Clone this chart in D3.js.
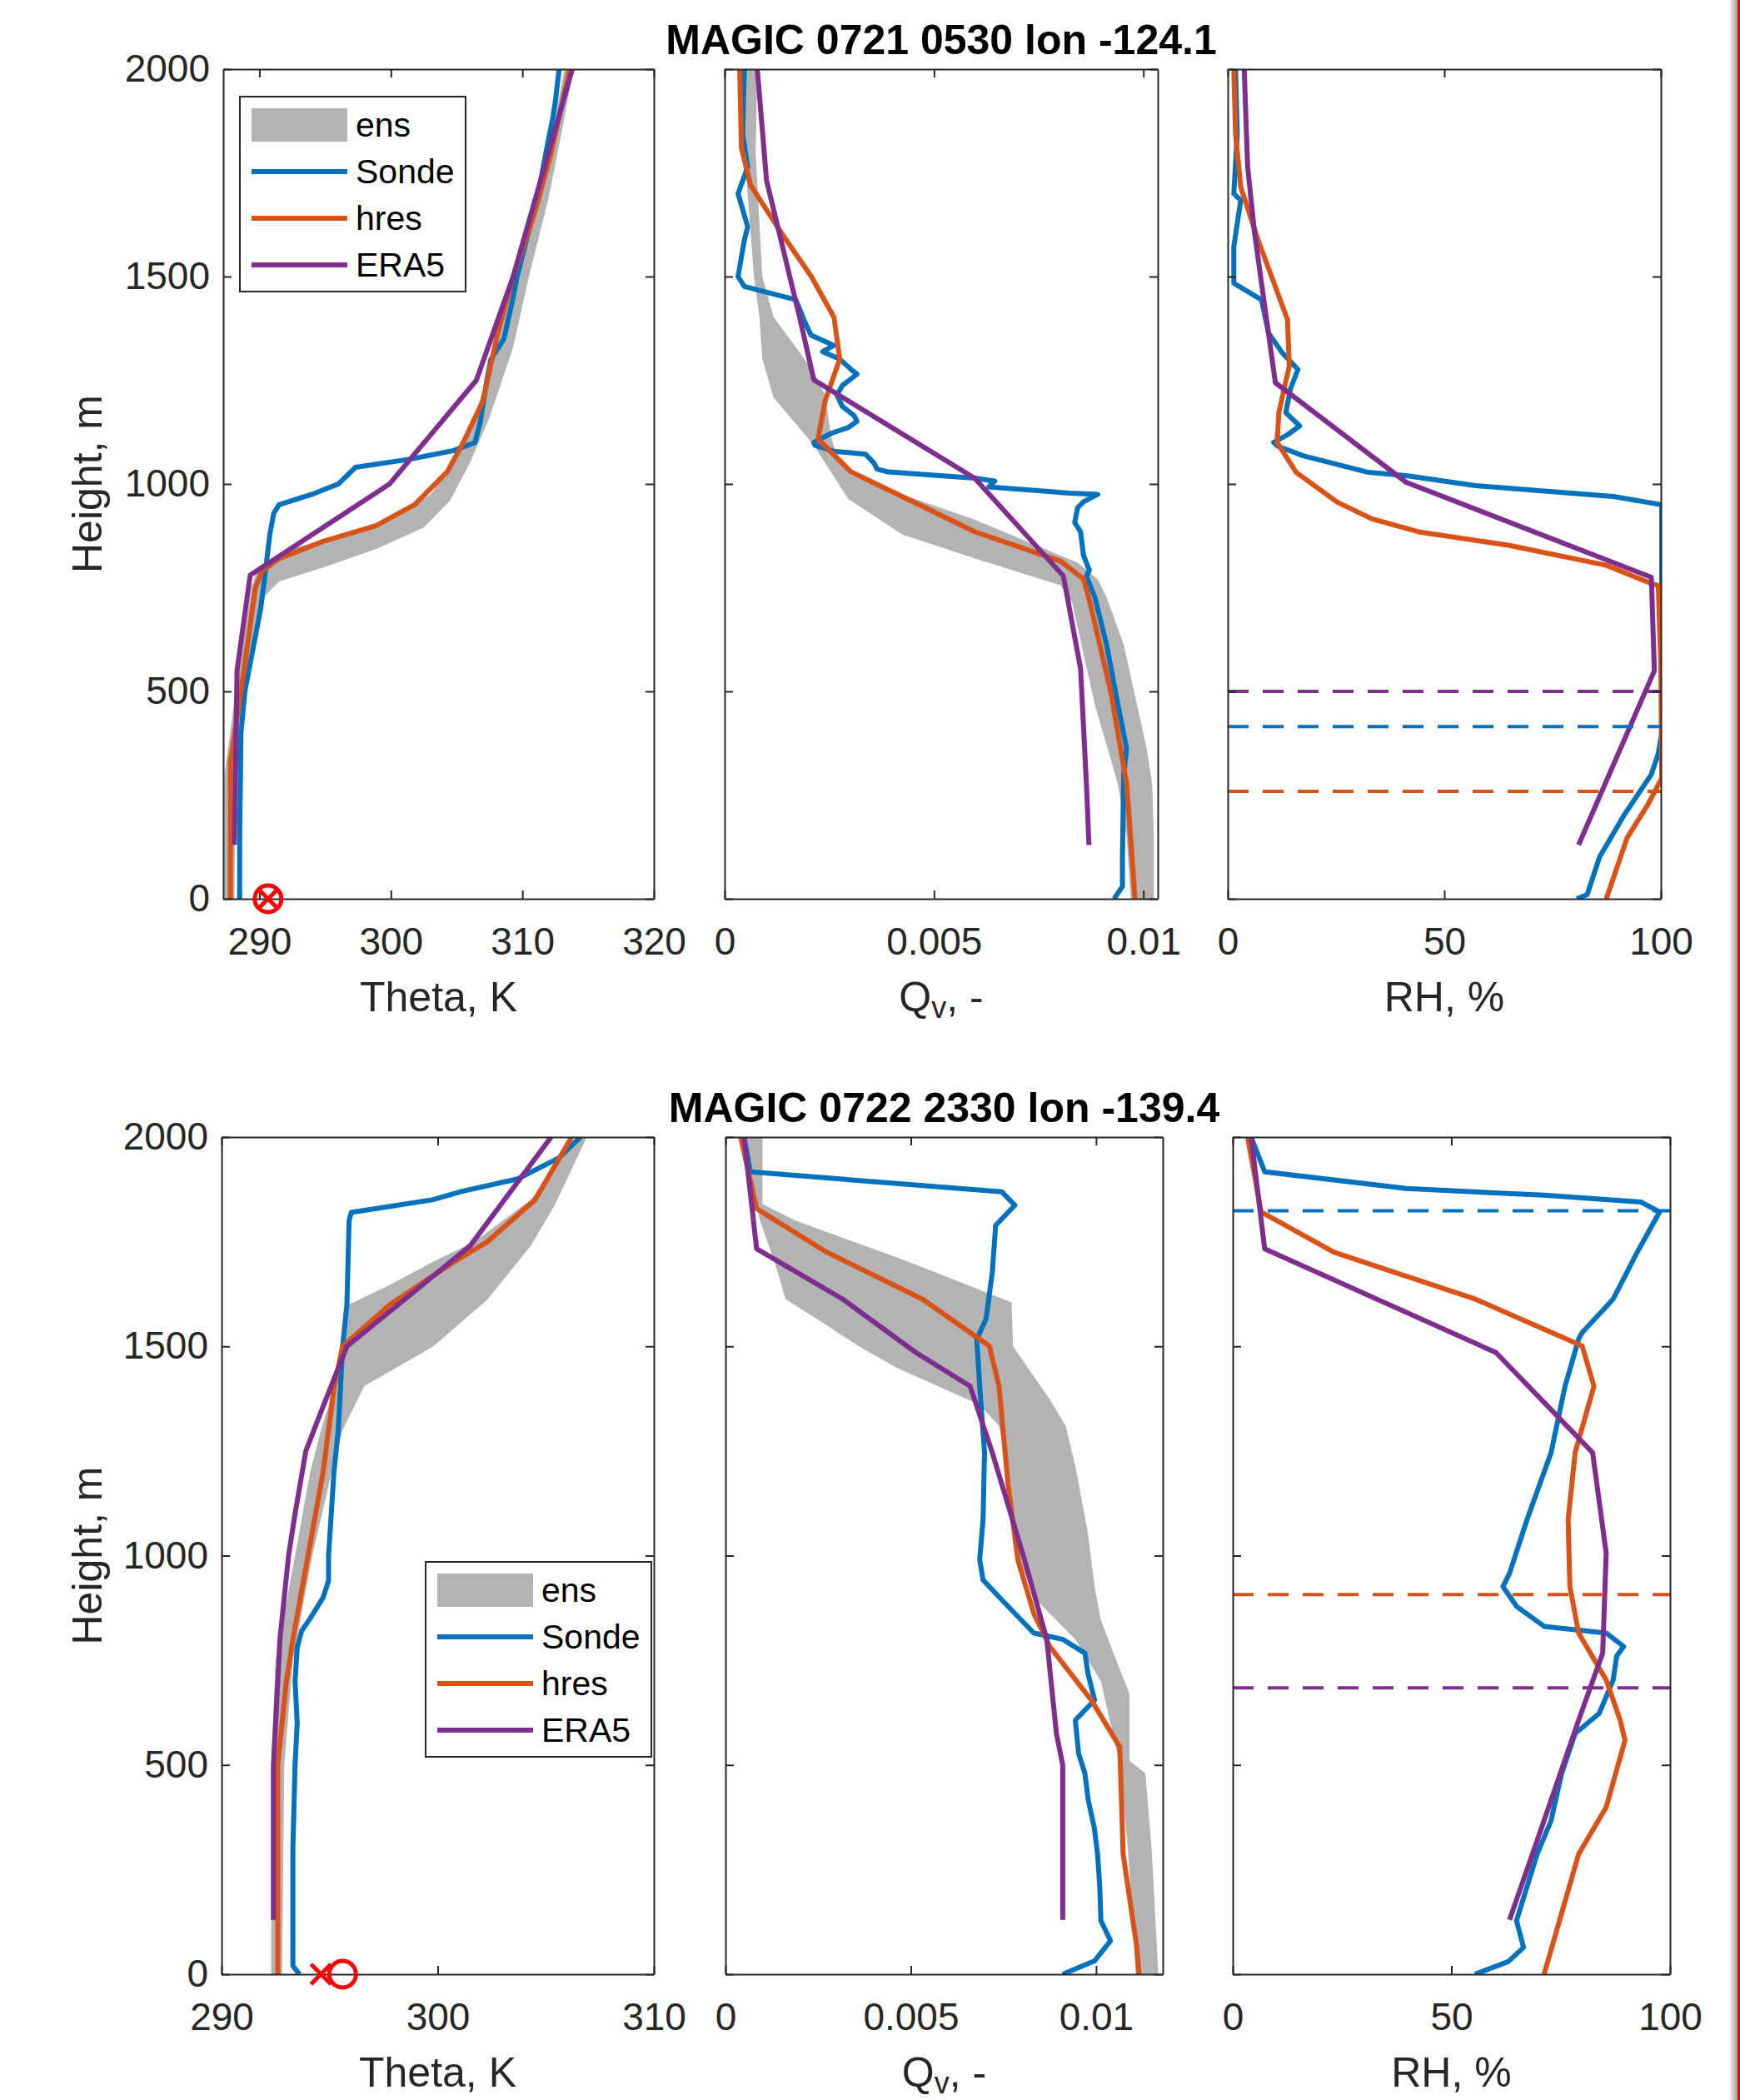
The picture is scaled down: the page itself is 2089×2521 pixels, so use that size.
<!doctype html>
<html lang="en">
<head>
<meta charset="utf-8">
<title>MAGIC profiles</title>
<style>
  body { margin: 0; background: #fff; }
  svg { display: block; font-family: "Liberation Sans", Arial, Helvetica, sans-serif; }
</style>
</head>
<body>
<div id="fig"></div>
<script src="https://cdn.jsdelivr.net/npm/d3@7/dist/d3.min.js"></script>
<script>
// ---- data: every pair is [value, height in m] ----
var titles = ["MAGIC 0721 0530 lon -124.1", "MAGIC 0722 2330 lon -139.4"];
var seriesNames = ["ens", "Sonde", "hres", "ERA5"];
var heightTicks = [0, 500, 1000, 1500, 2000];
var thetaTicks1 = [290, 300, 310, 320];
var thetaTicks2 = [290, 300, 310];
var qTicks = [0, 0.005, 0.01];
var rhTicks = [0, 50, 100];

// case 1: 0721 0530
var theta1EnsLo = [[287.35,0],[287.35,300],[288.2,500],[289.4,750],[289.9,800],[292,840],[296,875],[300,915],[303,975],[305,1060],[306.5,1170],[308,1350],[309,1480],[310.6,1650],[312,1800],[313.2,2000]];
var theta1EnsHi = [[288.1,0],[288.2,300],[289.0,500],[290.4,730],[291.5,765],[295,800],[299,845],[302.5,895],[304.5,960],[306,1050],[307.5,1160],[309.3,1330],[310.5,1500],[312,1690],[313,1850],[313.9,2000]];
var theta1Sonde = [[288.5,0],[288.5,150],[288.6,400],[288.9,500],[289.5,600],[290.1,700],[290.5,800],[290.8,880],[291.1,930],[291.5,950],[294,975],[296,1000],[296.5,1015],[297.3,1040],[301.5,1060],[304.7,1080],[306.4,1100],[306.8,1150],[307.3,1250],[307.6,1300],[308.6,1350],[309.3,1450],[309.6,1500],[310.4,1600],[311.2,1700],[311.8,1800],[312.3,1880],[312.5,1920],[312.8,2000]];
var theta1Hres = [[287.8,0],[287.8,330],[288.6,500],[289.7,750],[290.2,790],[291.5,820],[294.7,860],[298.9,900],[301.8,950],[304.3,1030],[305.5,1100],[307,1200],[308.1,1360],[309.3,1500],[310.9,1650],[312.2,1800],[313.6,2000]];
var theta1Era5 = [[288.1,130],[288.3,550],[289.3,780],[299.9,1000],[306.5,1250],[309.3,1500],[313.8,2000]];

var q1EnsLo = [[0.0097,0],[0.0096,150],[0.00939,277],[0.00884,469],[0.0083,713],[0.00802,756],[0.00597,821],[0.00425,878],[0.00295,964],[0.00254,1029],[0.00213,1093],[0.00165,1151],[0.00117,1208],[0.0009,1301],[0.00083,1402],[0.0007,1500],[0.00047,1800],[0.0004,2000]];
var q1EnsHi = [[0.01025,0],[0.01025,150],[0.01021,277],[0.01008,362],[0.00953,613],[0.00912,727],[0.00891,770],[0.00843,810],[0.00768,842],[0.00597,914],[0.00391,986],[0.00302,1021],[0.00268,1064],[0.00254,1115],[0.0024,1215],[0.00206,1280],[0.00117,1402],[0.0009,1500],[0.00074,1800],[0.00078,2000]];
var q1Sonde = [[0.0093,0],[0.0095,30],[0.0095,100],[0.00953,300],[0.0096,362],[0.00939,469],[0.00912,613],[0.00884,727],[0.00864,778],[0.00871,792],[0.00857,828],[0.0085,885],[0.00836,907],[0.00843,943],[0.00857,957],[0.00891,975],[0.00823,978],[0.00631,993],[0.00645,1007],[0.00597,1014],[0.00391,1029],[0.00364,1036],[0.00357,1050],[0.00336,1072],[0.00261,1079],[0.00216,1093],[0.00213,1100],[0.00254,1122],[0.00295,1136],[0.00316,1151],[0.00309,1165],[0.00281,1187],[0.00268,1215],[0.00281,1237],[0.00316,1265],[0.00302,1276],[0.00275,1301],[0.00234,1319],[0.00261,1334],[0.00206,1359],[0.00193,1387],[0.0017,1444],[0.00047,1476],[0.00032,1500],[0.00047,1588],[0.00055,1620],[0.00032,1700],[0.00055,1764],[0.00043,1844],[0.00047,2000]];
var q1Hres = [[0.0098,0],[0.0096,277],[0.00922,500],[0.00871,720],[0.00857,771],[0.00802,814],[0.00597,885],[0.00391,986],[0.00302,1029],[0.00223,1108],[0.0024,1201],[0.00275,1301],[0.00261,1402],[0.00207,1500],[0.00139,1600],[0.00062,1720],[0.0004,1810],[0.00036,2000]];
var q1Era5 = [[0.0087,130],[0.00864,277],[0.0085,555],[0.00809,778],[0.00597,1014],[0.00213,1251],[0.00179,1402],[0.001,1732],[0.00078,2000]];

var rh1Sonde = [[80.6,0],[83,10],[85.8,100],[91.4,200],[97.8,300],[99.4,350],[100.2,400],[100.2,950],[89,970],[57.2,996],[41.2,1020],[32.5,1028],[17.4,1068],[11.4,1092],[10.6,1100],[14,1120],[16.6,1140],[13.4,1172],[14.5,1230],[16.2,1276],[12.6,1316],[9.4,1364],[7.8,1444],[1.4,1484],[1.4,1572],[3,1684],[1.4,1700],[2.2,1844],[1.8,2000]];
var rh1Hres = [[87.4,0],[92.2,147],[97,227],[100.2,291],[100,563],[99.4,755],[97.8,760],[87.4,804],[65,852],[44.4,884],[33.3,916],[25.3,956],[15.8,1028],[11.4,1100],[11.8,1172],[14.2,1284],[13.8,1396],[7,1588],[3,1716],[1.8,1844],[1.4,2000]];
var rh1Era5 = [[81,130],[98.5,550],[97.8,775],[41.2,1004],[11,1244],[6.2,1604],[4.6,1764],[3.8,2000]];
var pbl1 = [415, 259, 500];   // Sonde, hres, ERA5

// case 2: 0722 2330
var theta2EnsLo = [[292.3,0],[292.3,500],[292.5,750],[293.4,1000],[294.1,1200],[294.6,1300],[295.2,1400],[295.6,1500],[295.9,1600],[297.9,1650],[299.7,1700],[301.7,1750],[304.3,1850],[306.5,2000]];
var theta2EnsHi = [[292.8,0],[292.9,500],[293.3,750],[294.2,1000],[295.1,1200],[295.6,1300],[296.6,1405],[299.8,1500],[302.3,1612],[304.3,1740],[305.4,1836],[306.9,2000]];
var theta2Sonde = [[293.6,0],[293.3,20],[293.3,300],[293.4,500],[293.5,600],[293.4,700],[293.5,780],[293.7,820],[294.1,850],[294.7,900],[294.95,940],[294.95,1000],[295.2,1200],[295.4,1300],[295.6,1500],[295.8,1600],[295.9,1800],[296.0,1820],[299.75,1850],[301.1,1870],[303.7,1900],[305.6,1950],[306.6,2000]];
var theta2Hres = [[292.6,0],[292.6,130],[292.6,500],[293.0,700],[293.3,800],[294.0,1000],[294.7,1200],[295.2,1400],[295.6,1500],[297.8,1600],[300.7,1700],[302.3,1750],[304.5,1850],[306.2,2000]];
var theta2Era5 = [[292.4,130],[292.4,500],[292.7,800],[293.1,1000],[293.4,1100],[293.9,1250],[294.65,1350],[295.8,1500],[301.5,1740],[305.25,2000]];

var q2EnsLo = [[0.01107,0],[0.01086,300],[0.01064,500],[0.01013,700],[0.00944,800],[0.00832,900],[0.00789,1000],[0.00776,1100],[0.00764,1200],[0.00738,1310],[0.00686,1360],[0.0046,1450],[0.0036,1500],[0.00256,1560],[0.00162,1613],[0.00133,1700],[0.00093,1800],[0.00084,1840],[0.00041,2000]];
var q2EnsHi = [[0.01168,0],[0.0115,300],[0.01133,480],[0.0109,510],[0.0109,670],[0.01047,767],[0.01013,846],[0.00996,926],[0.00978,1054],[0.00944,1214],[0.00918,1310],[0.00875,1373],[0.00776,1500],[0.00772,1605],[0.005,1700],[0.0019,1800],[0.001,1840],[0.001,2000]];
var q2Sonde = [[0.0091,0],[0.00996,32],[0.01039,80],[0.01013,128],[0.0101,208],[0.01004,287],[0.00995,351],[0.00979,415],[0.0097,479],[0.00953,527],[0.00944,607],[0.00996,655],[0.00978,719],[0.0097,767],[0.0091,800],[0.00832,815],[0.00746,894],[0.00695,942],[0.00686,990],[0.00695,1086],[0.00699,1246],[0.00686,1405],[0.00678,1517],[0.00703,1565],[0.0072,1677],[0.00729,1789],[0.00781,1837],[0.00746,1869],[0.00067,1917],[0.0005,2000]];
var q2Hres = [[0.01116,0],[0.0111,64],[0.01073,287],[0.01064,543],[0.00987,655],[0.00875,783],[0.00832,862],[0.00789,990],[0.00763,1166],[0.00738,1405],[0.00712,1501],[0.00531,1613],[0.00273,1725],[0.00084,1829],[0.00041,2000]];
var q2Era5 = [[0.0091,130],[0.0091,500],[0.00893,575],[0.00867,800],[0.00807,990],[0.0072,1246],[0.0066,1405],[0.00514,1485],[0.00316,1613],[0.00084,1733],[0.0005,2000]];

var rh2Sonde = [[55.4,0],[63,30],[66.5,64],[64.9,128],[69.6,287],[72.8,367],[75.2,479],[78.3,575],[83.8,623],[87,703],[87.8,760],[89.4,783],[85.4,815],[71.2,831],[64.9,879],[61.8,926],[63.3,958],[67.3,1086],[72.8,1246],[76,1405],[79.1,1517],[79.9,1533],[87,1613],[92.5,1725],[97.6,1821],[93.3,1845],[71.2,1861],[39.7,1877],[7.3,1917],[4.2,2000]];
var rh2Hres = [[71.2,0],[79.1,287],[85.4,399],[89.7,559],[88.6,607],[85.4,703],[79.1,815],[77.1,926],[76.7,1086],[78.3,1246],[82.6,1405],[79.9,1501],[55.4,1613],[23.1,1725],[6.5,1821],[3.4,2000]];
var rh2Era5 = [[63.3,130],[71.2,367],[79.1,607],[84.6,767],[85.4,1006],[82.3,1246],[60.2,1485],[7.3,1733],[4.2,2000]];
var pbl2 = [1824, 907, 684];  // Sonde, hres, ERA5

// surface theta markers (x and o) at height 0
var markX = [290.66, 294.6];
var markO = [290.66, 295.6];

// ---- drawing ----
var W = 2089, H = 2521;
var ensColor = "#b3b3b3";
var lineColors = ["#0072BD", "#D95319", "#7E2F8E"];
var axisColor = "#262626";
var clipCount = 0;

var svg = d3.select("#fig").append("svg")
    .attr("width", W)
    .attr("height", H);

svg.append("rect").attr("width", W).attr("height", H).attr("fill", "#fff");

function drawPanel(p) {
  var x = d3.scaleLinear().domain(p.xDomain).range([p.left, p.right]);
  var y = d3.scaleLinear().domain([0, 2000]).range([p.bottom, p.top]);

  var clipId = "clip" + (clipCount++);
  svg.append("clipPath").attr("id", clipId).append("rect")
    .attr("x", p.left).attr("y", p.top)
    .attr("width", p.right - p.left).attr("height", p.bottom - p.top);

  var plot = svg.append("g").attr("clip-path", "url(#" + clipId + ")");
  var line = d3.line().x(function(d) { return x(d[0]); }).y(function(d) { return y(d[1]); });

  // ensemble envelope: low edge going up, high edge coming down
  var band = p.ensLo.concat(p.ensHi.slice().reverse());
  if (band.length) plot.append("path").attr("d", line(band) + "Z").attr("fill", ensColor);

  [p.sonde, p.hres, p.era5].forEach(function(s, i) {
    plot.append("path")
      .attr("d", line(s))
      .attr("fill", "none")
      .attr("stroke", lineColors[i])
      .attr("stroke-width", 6)
      .attr("stroke-linejoin", "round");
  });

  // boundary layer heights, dashed
  if (p.pbl) {
    p.pbl.forEach(function(h, i) {
      plot.append("line")
        .attr("x1", x(p.xDomain[0])).attr("x2", x(p.xDomain[1]))
        .attr("y1", y(h)).attr("y2", y(h))
        .attr("stroke", lineColors[i])
        .attr("stroke-width", 4)
        .attr("stroke-dasharray", "25,17");
    });
  }

  // box with inward ticks on all four sides
  var ax = svg.append("g");
  ax.append("g").attr("transform", "translate(0," + p.bottom + ")")
    .call(d3.axisBottom(x).tickValues(p.xTicks).tickFormat(function(d) { return String(d); })
      .tickSize(-10).tickSizeOuter(0).tickPadding(34));
  ax.append("g").attr("transform", "translate(0," + p.top + ")")
    .call(d3.axisTop(x).tickValues(p.xTicks).tickFormat("").tickSize(-10).tickSizeOuter(0));
  ax.append("g").attr("transform", "translate(" + p.left + ",0)")
    .call(d3.axisLeft(y).tickValues(heightTicks).tickFormat(p.yLabels ? d3.format("d") : "")
      .tickSize(-10).tickSizeOuter(0).tickPadding(16));
  ax.append("g").attr("transform", "translate(" + p.right + ",0)")
    .call(d3.axisRight(y).tickValues(heightTicks).tickFormat("").tickSize(-10).tickSizeOuter(0));
  ax.selectAll("g").attr("font-family", null).attr("font-size", null);
  ax.selectAll("path, line").attr("stroke", axisColor).attr("stroke-width", 2);
  ax.selectAll("text").attr("font-size", 46).attr("fill", axisColor);

  // x label
  var cx = (p.left + p.right) / 2;
  var lab = svg.append("text")
    .attr("x", cx).attr("y", p.bottom + 135)
    .attr("text-anchor", "middle")
    .attr("font-size", 50)
    .attr("fill", axisColor);
  if (p.xLabel === "Q") {
    lab.append("tspan").text("Q");
    lab.append("tspan").attr("font-size", 36).attr("dy", 8).text("v");
    lab.append("tspan").attr("dy", -8).text(", -");
  } else {
    lab.text(p.xLabel);
  }

  if (p.yLabels) {
    svg.append("text")
      .attr("transform", "translate(122," + ((p.top + p.bottom) / 2) + ") rotate(-90)")
      .attr("text-anchor", "middle")
      .attr("font-size", 50)
      .attr("fill", axisColor)
      .text("Height, m");
  }

  // surface markers
  if (p.markX != null) {
    var mx = x(p.markX), my = y(0), s = 12;
    svg.append("path")
      .attr("d", "M" + (mx - s) + "," + (my - s) + "L" + (mx + s) + "," + (my + s) +
                 "M" + (mx - s) + "," + (my + s) + "L" + (mx + s) + "," + (my - s))
      .attr("stroke", "#ff0000").attr("stroke-width", 5);
    svg.append("circle")
      .attr("cx", x(p.markO)).attr("cy", my).attr("r", 16)
      .attr("fill", "none").attr("stroke", "#ff0000").attr("stroke-width", 5);
  }

  if (p.legend) drawLegend(p.legend[0], p.legend[1]);
}

function drawLegend(lx, ly) {
  var g = svg.append("g").attr("transform", "translate(" + lx + "," + ly + ")");
  g.append("rect").attr("width", 271).attr("height", 234)
    .attr("fill", "#fff").attr("stroke", axisColor).attr("stroke-width", 2);
  seriesNames.forEach(function(name, i) {
    var ry = 34 + i * 56;
    if (i === 0) {
      g.append("rect").attr("x", 14).attr("y", ry - 20).attr("width", 115).attr("height", 40).attr("fill", ensColor);
    } else {
      g.append("line").attr("x1", 14).attr("x2", 129).attr("y1", ry).attr("y2", ry)
        .attr("stroke", lineColors[i - 1]).attr("stroke-width", 6);
    }
    g.append("text").attr("x", 139).attr("y", ry + 14)
      .attr("font-size", 41).attr("fill", "#000").text(name);
  });
}

var rows = [
  { top: 83, bottom: 1079, cols: [[268, 785], [870, 1390], [1474, 1994]],
    thetaDomain: [287.25, 320], thetaTicks: thetaTicks1, qDomain: [0, 0.010344],
    theta: [theta1EnsLo, theta1EnsHi, theta1Sonde, theta1Hres, theta1Era5],
    q: [q1EnsLo, q1EnsHi, q1Sonde, q1Hres, q1Era5],
    rh: [rh1Sonde, rh1Hres, rh1Era5], pbl: pbl1, legend: [288, 116] },
  { top: 1365, bottom: 2370, cols: [[266, 785], [871, 1396], [1480, 2005]],
    thetaDomain: [290, 310], thetaTicks: thetaTicks2, qDomain: [0, 0.0118],
    theta: [theta2EnsLo, theta2EnsHi, theta2Sonde, theta2Hres, theta2Era5],
    q: [q2EnsLo, q2EnsHi, q2Sonde, q2Hres, q2Era5],
    rh: [rh2Sonde, rh2Hres, rh2Era5], pbl: pbl2, legend: [511, 1875] }
];

rows.forEach(function(r, k) {
  drawPanel({ left: r.cols[0][0], right: r.cols[0][1], top: r.top, bottom: r.bottom,
    xDomain: r.thetaDomain, xTicks: r.thetaTicks,
    ensLo: r.theta[0], ensHi: r.theta[1], sonde: r.theta[2], hres: r.theta[3], era5: r.theta[4],
    yLabels: true, xLabel: "Theta, K", markX: markX[k], markO: markO[k], legend: r.legend });
  drawPanel({ left: r.cols[1][0], right: r.cols[1][1], top: r.top, bottom: r.bottom,
    xDomain: r.qDomain, xTicks: qTicks,
    ensLo: r.q[0], ensHi: r.q[1], sonde: r.q[2], hres: r.q[3], era5: r.q[4],
    yLabels: false, xLabel: "Q" });
  drawPanel({ left: r.cols[2][0], right: r.cols[2][1], top: r.top, bottom: r.bottom,
    xDomain: [0, 100], xTicks: rhTicks,
    ensLo: [], ensHi: [], sonde: r.rh[0], hres: r.rh[1], era5: r.rh[2],
    pbl: r.pbl, yLabels: false, xLabel: "RH, %" });

  svg.append("text")
    .attr("x", (r.cols[1][0] + r.cols[1][1]) / 2).attr("y", r.top - 18)
    .attr("text-anchor", "middle")
    .attr("font-size", 50).attr("font-weight", "bold").attr("fill", "#000")
    .text(titles[k]);
});

// window edge at the far right of the screenshot
var grad = svg.append("defs").append("linearGradient").attr("id", "edge");
grad.append("stop").attr("offset", "0%").attr("stop-color", "#f2f2f2");
grad.append("stop").attr("offset", "100%").attr("stop-color", "#9c9c9c");
svg.append("rect").attr("x", 2077).attr("y", 0).attr("width", 9).attr("height", H).attr("fill", "url(#edge)");
svg.append("rect").attr("x", 2086).attr("y", 0).attr("width", 3).attr("height", H).attr("fill", "#e01010");
</script>
</body>
</html>
